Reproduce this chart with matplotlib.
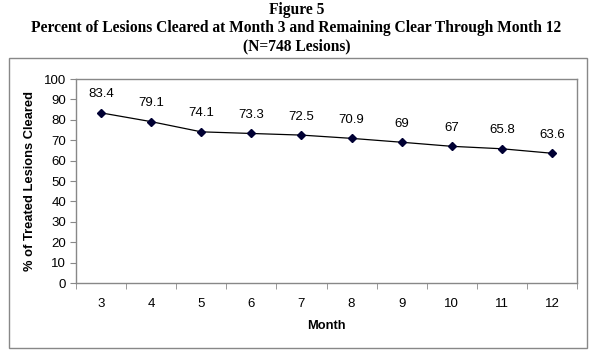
import matplotlib.pyplot as plt
from matplotlib.patches import Rectangle
import numpy as np

months = [3, 4, 5, 6, 7, 8, 9, 10, 11, 12]
pct_cleared = [83.4, 79.1, 74.1, 73.3, 72.5, 70.9, 69, 67, 65.8, 63.6]
pct_labels = ["83.4", "79.1", "74.1", "73.3", "72.5", "70.9", "69", "67", "65.8", "63.6"]

W, H = 593, 357
fig = plt.figure(figsize=(W / 100, H / 100), dpi=100)

# title block (serif, bold)
title_lines = ["Figure 5",
               "Percent of Lesions Cleared at Month 3 and Remaining Clear Through Month 12",
               "(N=748 Lesions)"]
for i, line in enumerate(title_lines):
    fig.text(0.5, 1 - (10 + 18 * i) / H, line, ha="center", va="center",
             family="Liberation Serif", weight="bold", fontsize=11.2)

# outer chart frame
fig.patches.append(Rectangle((9 / W, 1 - 348 / H), (587 - 9) / W, (348 - 58) / H,
                             transform=fig.transFigure, fill=False,
                             edgecolor="#888888", linewidth=1))

ax = fig.add_axes([76 / W, 1 - 283 / H, (577 - 76) / W, (283 - 79) / H])
x = np.arange(len(months))
ax.plot(x, pct_cleared, color="black", linewidth=0.9, marker="D",
        markersize=4.5, markerfacecolor="#000033", markeredgecolor="#000033")
for xi, yi, lab in zip(x, pct_cleared, pct_labels):
    ax.annotate(lab, (xi, yi), xytext=(0, 9), textcoords="offset points",
                ha="center", va="bottom", family="Liberation Sans", fontsize=9.5)

ax.set_xlim(-0.5, len(months) - 0.5)
ax.set_ylim(0, 100)
ax.set_yticks(np.arange(0, 101, 10))
ax.set_xticks(x)
ax.set_xticklabels([str(m) for m in months])
ax.set_xticks(np.arange(-0.5, len(months), 1), minor=True)
ax.tick_params(axis="x", which="major", length=0, pad=11)
ax.tick_params(axis="x", which="minor", length=4, color="#888888")
ax.tick_params(axis="y", length=4, color="#888888", pad=3)
for t in ax.get_xticklabels() + ax.get_yticklabels():
    t.set_family("Liberation Sans")
    t.set_fontsize(9.5)
for s in ax.spines.values():
    s.set_color("#888888")
    s.set_linewidth(1)

ax.set_xlabel("Month", family="Liberation Sans", weight="bold", fontsize=9.3, labelpad=7)
ax.set_ylabel("% of Treated Lesions Cleared", family="Liberation Sans",
              weight="bold", fontsize=9.3, labelpad=6)

fig.savefig("out.png", dpi=100)
